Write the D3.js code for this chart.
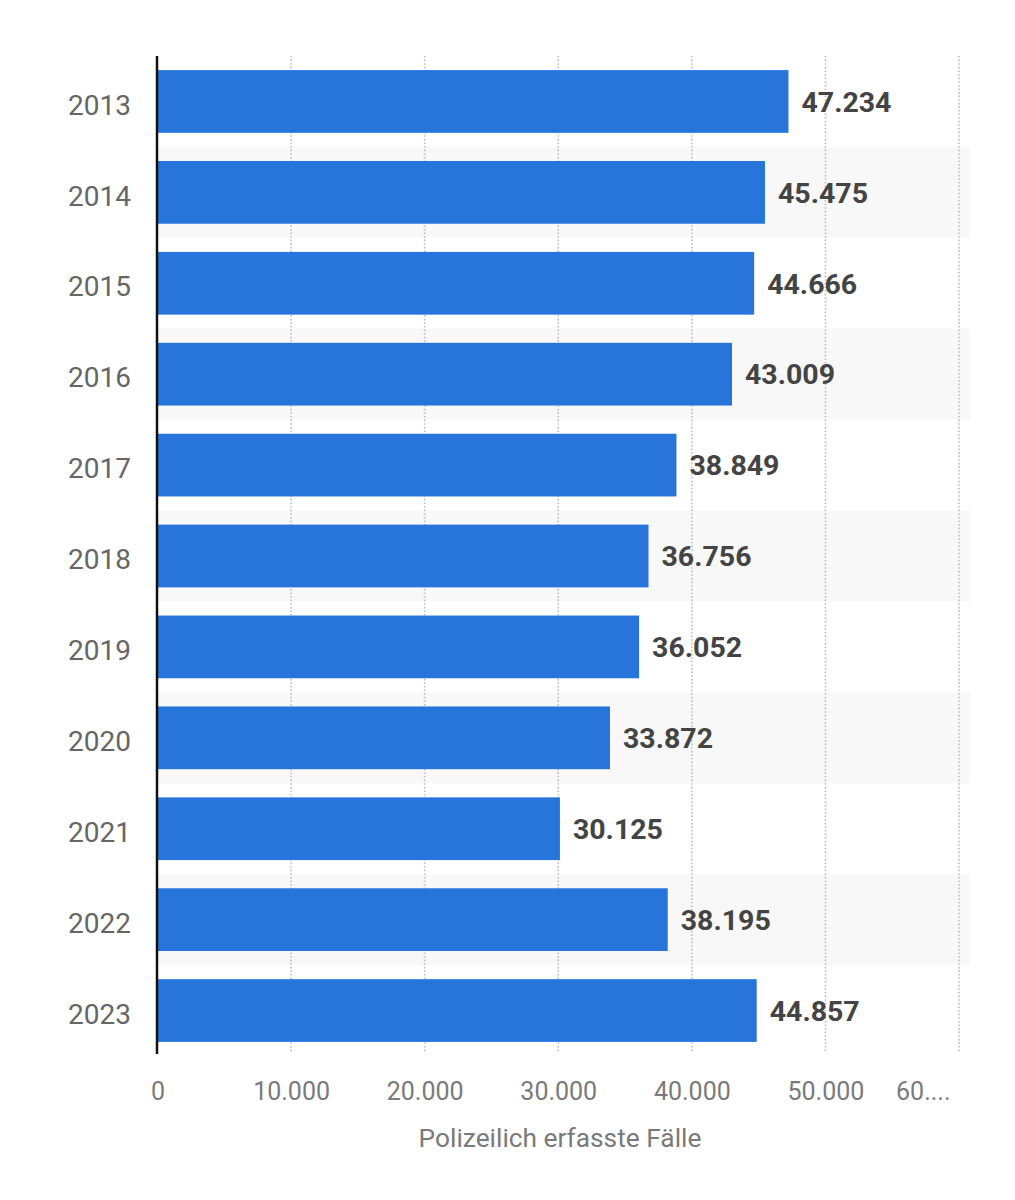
<!DOCTYPE html>
<html><head><meta charset="utf-8">
<script src="https://cdn.jsdelivr.net/npm/d3@7"></script>
<style>
html,body{margin:0;padding:0;background:#fff;}
svg{display:block;font-family:Roboto,"Noto Sans",Arial,sans-serif;}
</style></head>
<body>
<svg id="chart" width="1015" height="1200"></svg>
<script>
const years = ["2013","2014","2015","2016","2017","2018","2019","2020","2021","2022","2023"];
const cases = [47234,45475,44666,43009,38849,36756,36052,33872,30125,38195,44857];
const valueLabels = ["47.234","45.475","44.666","43.009","38.849","36.756","36.052","33.872","30.125","38.195","44.857"];
const tickValues = [0,10000,20000,30000,40000,50000,60000];
const tickLabels = ["0","10.000","20.000","30.000","40.000","50.000","60...."];
const axisTitle = "Polizeilich erfasste Fälle";

const svg = d3.select("#chart");
const x = d3.scaleLinear().domain([0,60000]).range([157.5,959]);
const y = d3.scaleBand().domain(years).range([56,1056]).paddingInner(0.31).paddingOuter(0.155);
const band = d3.scaleBand().domain(years).range([56,1056]);

// stripes
svg.append("g").selectAll("rect").data(years.filter((d,i)=>i%2===1)).join("rect")
  .attr("x",157).attr("width",813)
  .attr("y",d=>band(d)).attr("height",band.bandwidth())
  .attr("fill","#f8f8f8");

// grid
svg.append("g").selectAll("line").data(tickValues.slice(1)).join("line")
  .attr("x1",d=>x(d)).attr("x2",d=>x(d)).attr("y1",56).attr("y2",1052)
  .attr("stroke","#bdbdbd").attr("stroke-width",1.6).attr("stroke-dasharray","1.6,2");

// bars
svg.append("g").selectAll("rect").data(years).join("rect")
  .attr("x",x(0)).attr("y",d=>y(d)).attr("height",y.bandwidth())
  .attr("width",(d,i)=>x(cases[i])-x(0))
  .attr("fill","#2775db");

// value labels
svg.append("g").selectAll("text").data(years).join("text")
  .attr("x",(d,i)=>x(cases[i])+13).attr("y",d=>y(d)+y.bandwidth()/2)
  .attr("dy","0.36em").attr("font-size",28.5).attr("font-weight","bold").attr("fill","#444")
  .text((d,i)=>valueLabels[i]);

// y labels
svg.append("g").selectAll("text").data(years).join("text")
  .attr("x",131).attr("y",d=>y(d)+y.bandwidth()/2)
  .attr("dy","0.47em").attr("text-anchor","end").attr("font-size",28).attr("fill","#666")
  .text(d=>d);

// y axis line
svg.append("line").attr("x1",157).attr("x2",157).attr("y1",56).attr("y2",1054)
  .attr("stroke","#111").attr("stroke-width",2.5);

// x axis tick labels
const xAxis = d3.axisBottom(x).tickValues(tickValues).tickSize(0).tickFormat((d,i)=>tickLabels[i]);
const gx = svg.append("g").attr("transform","translate(0,1100)").call(xAxis);
gx.select(".domain").remove();
gx.selectAll("text").attr("y",0).attr("dy",0).attr("font-size",25).attr("fill","#7a7a7a")
  .attr("font-family","Roboto,'Noto Sans',Arial,sans-serif");
gx.selectAll(".tick").filter((d,i)=>i===tickValues.length-1).select("text")
  .attr("text-anchor","end").attr("x",-9);

svg.append("text").attr("x",560).attr("y",1147).attr("text-anchor","middle")
  .attr("font-size",26.3).attr("fill","#7a7a7a").text(axisTitle);
</script>
</body></html>
